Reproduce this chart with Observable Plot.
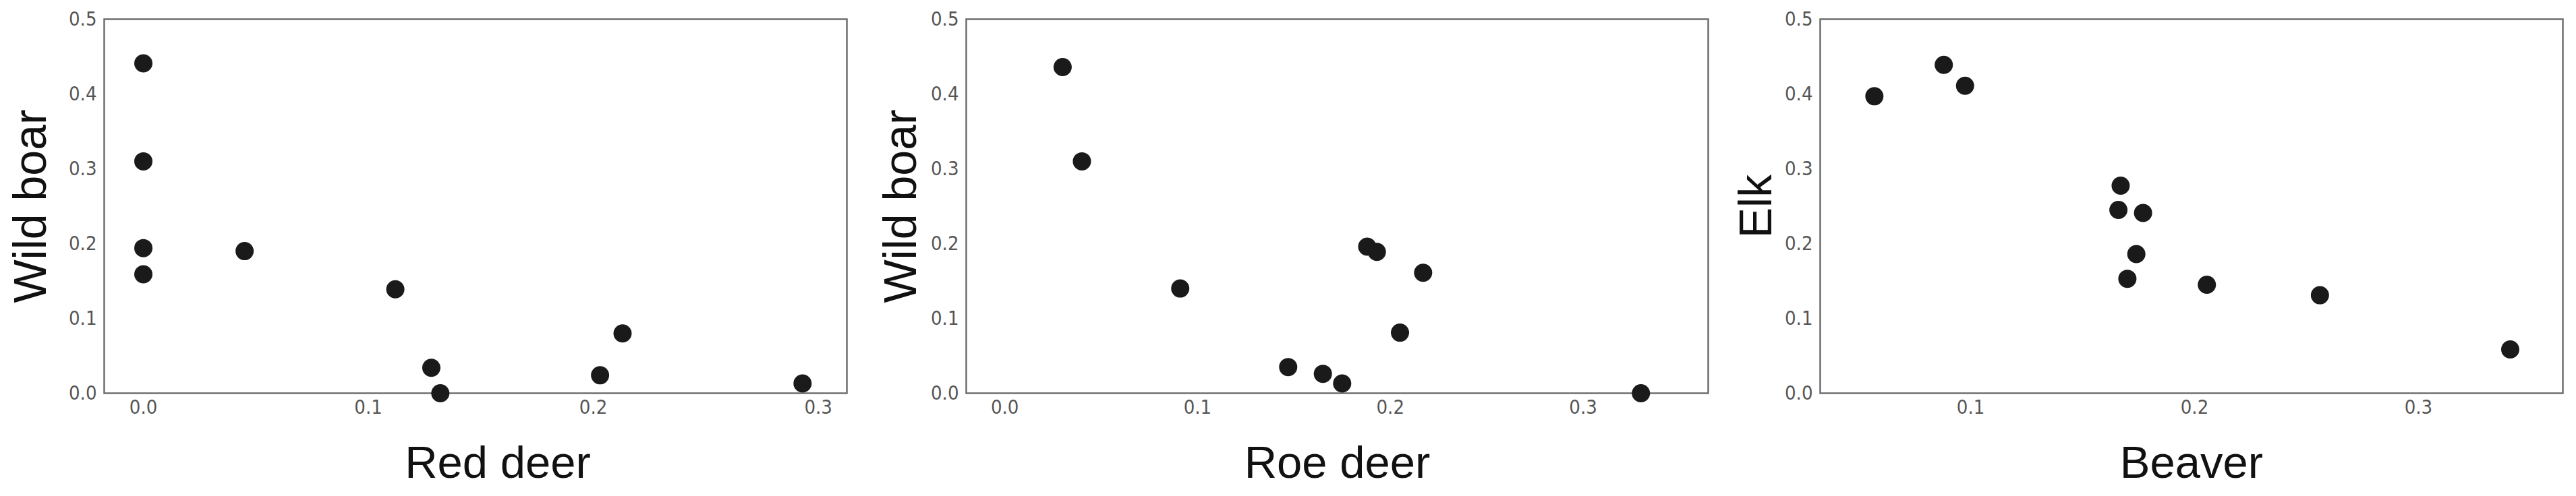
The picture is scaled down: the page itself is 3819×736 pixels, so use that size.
<!DOCTYPE html>
<html>
<head>
<meta charset="utf-8">
<script src="https://cdn.jsdelivr.net/npm/d3@7"></script>
<script src="https://cdn.jsdelivr.net/npm/@observablehq/plot@0.6"></script>
<style>
  html, body { margin: 0; padding: 0; background: #fff; }
  #chart { position: relative; width: 3819px; height: 736px; overflow: hidden; background: #fff; }
  #chart svg { position: absolute; top: 0; }
</style>
</head>
<body>
<div id="chart"></div>
<script>
// Panel 1: Red deer (x) vs Wild boar (y)
const redDeer   = [0, 0, 0, 0, 0.045, 0.112, 0.128, 0.132, 0.203, 0.213, 0.293];
const wildBoar1 = [0.441, 0.310, 0.194, 0.159, 0.190, 0.139, 0.034, 0.000, 0.024, 0.080, 0.013];

// Panel 2: Roe deer (x) vs Wild boar (y)
const roeDeer   = [0.030, 0.040, 0.091, 0.188, 0.193, 0.217, 0.205, 0.147, 0.165, 0.175, 0.330];
const wildBoar2 = [0.436, 0.310, 0.140, 0.196, 0.189, 0.161, 0.081, 0.035, 0.026, 0.013, 0.000];

// Panel 3: Beaver (x) vs Elk (y)
const beaver = [0.057, 0.088, 0.0975, 0.167, 0.166, 0.177, 0.174, 0.170, 0.2055, 0.256, 0.341];
const elk    = [0.397, 0.439, 0.411, 0.2775, 0.245, 0.241, 0.186, 0.153, 0.145, 0.131, 0.0586];

const xLabels = ["Red deer", "Roe deer", "Beaver"];
const yLabels = ["Wild boar", "Wild boar", "Elk"];
const xTicks1 = [0, 0.1, 0.2, 0.3];
const xTicks2 = [0, 0.1, 0.2, 0.3];
const xTicks3 = [0.1, 0.2, 0.3];
const yTicks  = [0, 0.1, 0.2, 0.3, 0.4, 0.5];

const tickFont = "'Liberation Sans Narrow', 'Arial Narrow', 'DejaVu Sans Condensed', 'Liberation Sans', sans-serif";
const labelFont = "'Liberation Sans', Arial, sans-serif";
const fmt = d3.format(".1f");

const panels = [
  {left: 0,    width: 1280, ml: 154, mr: 25, xs: redDeer, ys: wildBoar1, xd: [-0.0174, 0.3127], xt: xTicks1, xl: xLabels[0], yl: yLabels[0], ldx: 33, ydx: -87},
  {left: 1280, width: 1270, ml: 152, mr: 18, xs: roeDeer, ys: wildBoar2, xd: [-0.0200, 0.3649], xt: xTicks2, xl: xLabels[1], yl: yLabels[1], ldx: 0,  ydx: -75},
  {left: 2550, width: 1269, ml: 148, mr: 20, xs: beaver,  ys: elk,       xd: [0.0328, 0.3645],  xt: xTicks3, xl: xLabels[2], yl: yLabels[2], ldx: 0,  ydx: -73}
];

const root = document.getElementById("chart");
for (const p of panels) {
  const data = p.xs.map((x, i) => ({x, y: p.ys[i]}));
  const svg = Plot.plot({
    width: p.width,
    height: 736,
    marginLeft: p.ml,
    marginRight: p.mr,
    marginTop: 28,
    marginBottom: 153,
    style: {background: "transparent", overflow: "visible"},
    x: {domain: p.xd},
    y: {domain: [0, 0.5]},
    marks: [
      Plot.frame({stroke: "#6e6e6e", strokeWidth: 2.5}),
      Plot.axisX(p.xt, {tickSize: 0, tickPadding: 10, tickFormat: fmt, fontSize: 29, fontFamily: tickFont, color: "#555", label: null}),
      Plot.axisY(yTicks, {tickSize: 0, tickPadding: 11, tickFormat: fmt, fontSize: 29, fontFamily: tickFont, color: "#555", label: null}),
      Plot.dot(data, {x: "x", y: "y", r: 13.5, fill: "#1a1a1a", stroke: "none"}),
      Plot.text([p.xl], {text: d => d, frameAnchor: "bottom", lineAnchor: "bottom", textAnchor: "middle", dy: 125, dx: p.ldx, fontSize: 67, fontFamily: labelFont, fill: "#111"}),
      Plot.text([p.yl], {text: d => d, frameAnchor: "left", rotate: -90, lineAnchor: "bottom", textAnchor: "middle", dx: p.ydx, fontSize: 68, fontFamily: labelFont, fill: "#111"})
    ]
  });
  svg.style.left = p.left + "px";
  root.appendChild(svg);
}
</script>
</body>
</html>
